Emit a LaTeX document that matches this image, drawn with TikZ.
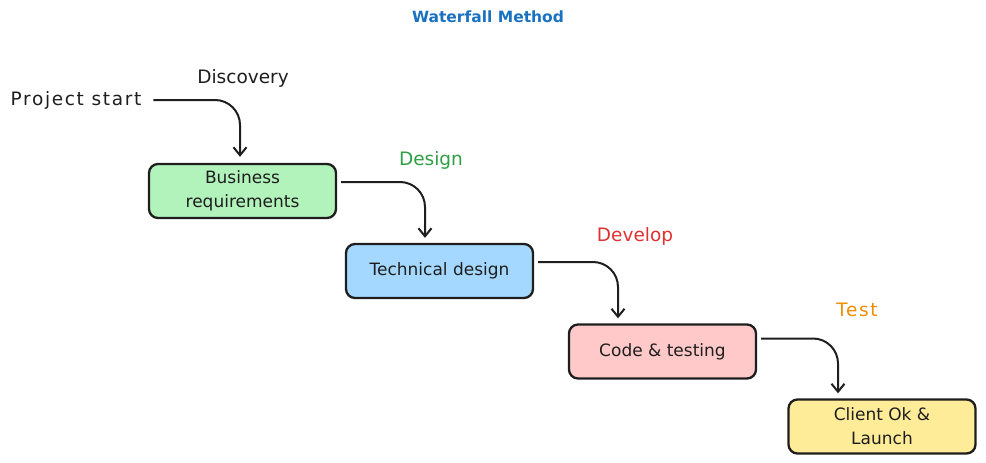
\documentclass[tikz,border=0pt]{standalone}
\usepackage{fontspec}
\setmainfont{DejaVu Sans}
\newfontfamily\widefont[LetterSpace=9]{DejaVu Sans}
\usetikzlibrary{arrows.meta,calc}
\definecolor{ink}{HTML}{1E1E1E}
\definecolor{fgreen}{HTML}{B2F2BB}
\definecolor{fblue}{HTML}{A5D8FF}
\definecolor{fred}{HTML}{FFC9C9}
\definecolor{fyellow}{HTML}{FFEC99}
\definecolor{tgreen}{HTML}{2F9E44}
\definecolor{tred}{HTML}{E03131}
\definecolor{torange}{HTML}{F08C00}
\definecolor{tblue}{HTML}{1971C2}
\begin{document}
\begin{tikzpicture}[x=1pt,y=-1pt,
  box/.style={draw=ink, line width=2.3pt, rounded corners=9pt, minimum width=187pt, minimum height=54pt, align=center, font=\fontsize{17}{24}\selectfont, inner sep=0pt, text=ink},
  lbl/.style={font=\fontsize{18.5}{20}\selectfont, inner sep=2pt, text=ink},
  arr/.style={draw=ink, line width=2pt, rounded corners=25pt, -{Straight Barb[length=8pt,width=13pt,line width=2pt]}}]
\useasboundingbox (0,0) rectangle (986,463);
\node[font=\fontsize{15.5}{18}\selectfont\bfseries, text=tblue] (title) at (488,17) {Waterfall Method};
\node[box, fill=fgreen] (br) at (242.5,191) {Business\\requirements};
\node[box, fill=fblue] (td) at (439.5,271) {Technical design};
\node[box, fill=fred] (ct) at (662.5,351.5) {Code \& testing};
\node[box, fill=fyellow] (cl) at (882,426.5) {Client Ok \&\\Launch};
\node[lbl, font=\widefont\fontsize{18.5}{20}\selectfont] (ps) at (76,100) {Project start};
\node[lbl] (disc) at (243,78) {Discovery};
\node[lbl, text=tgreen] (des) at (431,160) {Design};
\node[lbl, text=tred] (dev) at (635,236) {Develop};
\node[lbl, text=torange, font=\widefont\fontsize{18.5}{20}\selectfont] (tst) at (857,310) {Test};
\draw[arr] ([xshift=10pt]ps.east) -| ([xshift=-2.5pt,yshift=6pt]br.north);
\draw[arr] ([xshift=4pt,yshift=9pt]br.east) -| ([xshift=-14.5pt,yshift=5pt]td.north);
\draw[arr] ([xshift=4pt,yshift=9pt]td.east) -| ([xshift=-44.5pt,yshift=5pt]ct.north);
\draw[arr] ([xshift=4pt,yshift=13pt]ct.east) -| ([xshift=-44pt,yshift=5pt]cl.north);
\end{tikzpicture}
\end{document}
